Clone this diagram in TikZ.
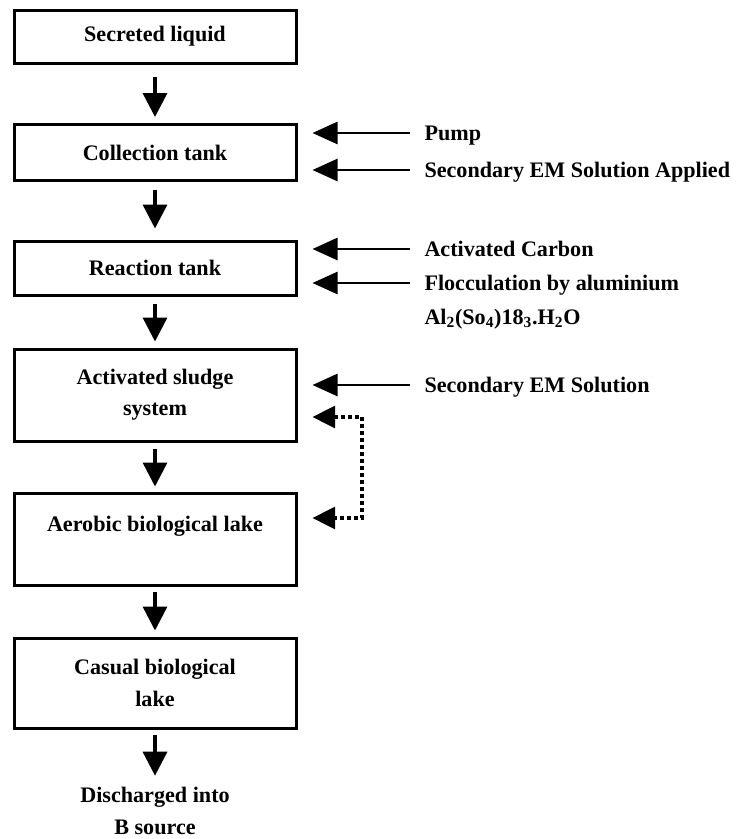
\documentclass[tikz,border=0pt]{standalone}
\usepackage{fontspec}
\setmainfont{Liberation Serif}
\usetikzlibrary{arrows.meta}

\tikzset{every picture/.style={line width=0.75pt}}
\tikzset{
  tank/.style={draw, line width=2.25pt, minimum width=211.5pt, inner sep=0pt, align=center, font=\fontsize{16.6}{23.5}\selectfont\bfseries},
  flow/.style={-{Triangle[length=18pt,width=18pt]}, line width=2.6pt},
  feed/.style={-{Triangle[length=18.75pt,width=16.5pt]}, line width=2pt, shorten >=11.25pt, shorten <=10.5pt},
  recycle/.style={{Triangle[length=17pt,width=16.5pt]}-{Triangle[length=17pt,width=16.5pt]}, line width=2.4pt, dash pattern=on 3pt off 2.25pt, shorten >=11.25pt, shorten <=11.25pt},
  lbl/.style={anchor=west, inner sep=0pt, text height=11pt, text depth=0pt, font=\fontsize{16.6}{20}\selectfont\bfseries},
}

\begin{document}
\begin{tikzpicture}[x=0.75pt,y=0.75pt,yscale=-1,xscale=1]
\useasboundingbox (0,0) rectangle (736,839);

%Shape: Rectangle
\node[tank, minimum height=39.75pt] (secreted) at (155,36.5) {Secreted liquid};
%Shape: Rectangle
\node[tank, minimum height=42pt] (collection) at (155,152.5) {Collection tank};
%Shape: Rectangle
\node[tank, minimum height=40.5pt] (reaction) at (155,268) {Reaction tank};
%Shape: Rectangle
\node[tank, minimum height=69pt] (sludge) at (155,395) {Activated sludge\\system};
%Shape: Rectangle
\node[tank, minimum height=69pt] (aerobic) at (155,539) {Aerobic biological lake\\\mbox{}};
%Shape: Rectangle
\node[tank, minimum height=67.5pt] (casual) at (155,683) {Casual biological\\lake};
% Text Node
\node[inner sep=0pt, align=center, font=\fontsize{16.6}{24}\selectfont\bfseries] (discharge) at (155,811) {Discharged into\\B source};

% Text Node
\node[lbl] (pump) at (424,133) {Pump};
% Text Node
\node[lbl] (emapplied) at (424,170) {Secondary EM Solution Applied};
% Text Node
\node[lbl] (carbon) at (424,249) {Activated Carbon};
% Text Node
\node[lbl] (flocc) at (424,283) {Flocculation by aluminium};
% Text Node
\node[lbl] (alum) at (424,317) {Al\textsubscript{2}(So\textsubscript{4})18\textsubscript{3}.H\textsubscript{2}O};
% Text Node
\node[lbl] (emsol) at (424,385) {Secondary EM Solution};

%Straight Lines
\draw[flow, shorten <=9pt, shorten >=4.5pt] (secreted) -- (collection);
\draw[flow, shorten <=6pt, shorten >=8.25pt] (collection) -- (reaction);
\draw[flow, shorten <=5.25pt, shorten >=4.5pt] (reaction) -- (sludge);
\draw[flow, shorten <=4.5pt, shorten >=3.75pt] (sludge) -- (aerobic);
\draw[flow, shorten <=3.75pt, shorten >=4.5pt] (aerobic) -- (casual);
\draw[flow, shorten <=3.75pt, shorten >=8.25pt] (casual) -- (discharge);

%Straight Lines
\draw[feed] (pump) -- (pump -| collection.east);
\draw[feed] (emapplied) -- (emapplied -| collection.east);
\draw[feed] (carbon) -- (carbon -| reaction.east);
\draw[feed] (flocc) -- (flocc -| reaction.east);
\draw[feed] (emsol) -- (emsol -| sludge.east);

%Shape: Polyline
\coordinate (r1) at (362,417);
\coordinate (r2) at (362,518);
\draw[recycle] (sludge.east |- r1) -- (r1) -- (r2) -- (aerobic.east |- r2);

\end{tikzpicture}
\end{document}
